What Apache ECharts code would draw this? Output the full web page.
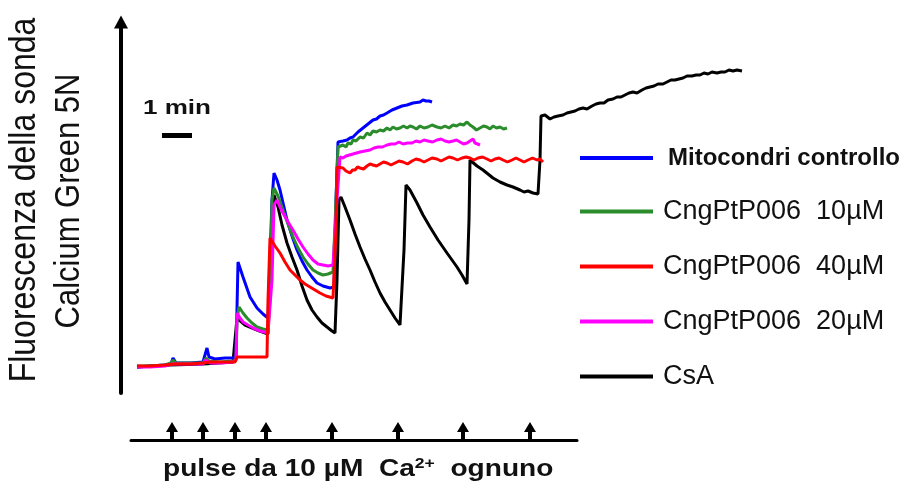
<!DOCTYPE html>
<html>
<head>
<meta charset="utf-8">
<script src="https://cdn.jsdelivr.net/npm/echarts@6/dist/echarts.min.js"></script>
<style>
  html, body { margin: 0; padding: 0; background: #fff; }
  #chart { width: 923px; height: 486px; }
</style>
</head>
<body>
<div id="chart"></div>
<script>
// Calcium Green 5N fluorescence traces: time in seconds, fluorescence in arbitrary units.
const mitoControllo = [
  [32,26],[58,27],[88,28],[100,29],[104,35],[110,30],[138,30],[164,31],[168,38],[172,45],[176,36],
  [188,34],[208,35],[224,35],[230,38],[234,131],[244,116],[258,96],[272,85],[284,79],[294,75],[298,75],
  [302,193],[306,220],[312,213],[318,203],[332,173],[342,157],[352,143],[362,132],[372,123],[382,116],
  [392,110],[404,107],[418,105],[426,106],[430,193],[434,251],[444,252],[448,251],[452,253],[458,255],
  [464,256],[474,261],[484,265],[494,269],[504,273],[511,274],[518,277],[525,278],[532,280],[542,283],
  [552,285],[562,287],[572,288],[578,289],[584,290],[598,291],[604,293],[610,292],[616,292],[622,291]
];
const cng10 = [
  [32,27],[58,27],[88,28],[100,30],[104,33],[110,30],[138,30],[164,30],[170,35],[176,32],[198,31],
  [224,32],[230,33],[232,73],[236,86],[244,80],[252,75],[262,70],[272,66],[284,64],[294,63],[298,93],
  [302,193],[306,205],[314,197],[324,183],[334,169],[344,156],[354,145],[364,136],[374,129],[384,123],
  [394,120],[404,118],[414,119],[424,121],[428,122],[430,193],[434,246],[444,248],[450,246],[454,250],
  [460,249],[464,253],[470,252],[478,256],[485,255],[492,260],[498,258],[504,262],[511,261],[518,263],
  [525,262],[532,265],[538,263],[544,266],[551,264],[558,265],[565,267],[572,265],[578,267],[584,266],
  [591,264],[598,267],[606,265],[614,266],[622,268],[632,266],[640,265],[648,267],[656,265],[664,268],
  [671,267],[678,269],[685,268],[692,271],[698,268],[704,266],[711,263],[718,265],[725,267],[732,266],
  [738,264],[744,267],[751,265],[758,266],[765,264],[772,265]
];
const cng40 = [
  [32,27],[58,27],[88,28],[108,29],[138,29],[164,30],[178,31],[202,31],[228,31],[232,36],[238,36],
  [258,36],[278,36],[292,36],[294,93],[298,155],[308,147],[318,140],[328,131],[338,123],[348,118],
  [358,113],[368,109],[378,106],[388,103],[398,100],[410,97],[424,95],[428,96],[430,163],[432,226],
  [444,225],[450,222],[458,220],[463,223],[468,223],[473,226],[478,225],[485,224],[492,227],[498,229],
  [504,228],[511,227],[518,229],[525,231],[532,230],[540,228],[548,230],[556,232],[564,231],[573,229],
  [582,232],[590,234],[598,233],[606,231],[614,233],[622,235],[632,234],[640,232],[648,234],[656,236],
  [664,235],[673,233],[682,235],[690,236],[698,235],[706,233],[714,235],[723,236],[732,234],[740,232],
  [748,234],[756,235],[764,233],[773,231],[782,233],[790,235],[798,233],[806,231],[814,233],[823,235],
  [832,233],[838,234],[844,231]
];
const cng20 = [
  [32,26],[58,26],[88,27],[102,29],[110,29],[138,29],[164,29],[170,33],[178,30],[202,30],[224,31],
  [230,33],[232,80],[238,75],[244,71],[254,68],[264,65],[278,62],[294,60],[298,60],[302,113],[306,188],
  [312,193],[318,186],[324,180],[334,171],[344,163],[354,154],[364,146],[374,139],[384,133],[394,129],
  [404,128],[414,127],[424,128],[428,129],[432,193],[438,236],[444,235],[450,237],[457,238],[464,239],
  [471,240],[478,241],[488,242],[498,243],[506,245],[514,246],[523,246],[532,248],[540,249],[548,249],
  [556,251],[564,249],[573,250],[582,250],[590,252],[598,251],[606,253],[614,252],[623,251],[632,253],
  [640,254],[648,252],[656,251],[664,252],[671,253],[678,251],[685,249],[692,250],[698,252],[704,254],
  [708,250],[712,249],[718,248]
];
const csa = [
  [32,26],[98,28],[164,29],[224,31],[232,75],[248,68],[272,63],[294,59],[300,143],[306,198],[314,186],
  [322,168],[332,150],[342,136],[352,123],[362,107],[372,93],[382,83],[392,76],[402,70],[412,66],
  [422,62],[428,60],[432,113],[436,193],[440,196],[448,186],[458,173],[468,159],[478,146],[488,134],
  [498,123],[508,111],[518,100],[528,91],[538,83],[548,75],[558,68],[562,67],[566,143],[570,208],
  [578,203],[592,190],[604,178],[618,166],[634,153],[652,140],[662,133],[672,126],[682,118],[692,109],
  [694,108],[696,173],[698,233],[702,234],[712,227],[724,223],[734,219],[744,215],[758,211],[772,208],
  [784,206],[798,203],[806,201],[814,202],[824,200],[834,199],[838,233],[840,277],[848,278],[852,276],
  [858,274],[866,276],[874,277],[884,278],[892,280],[900,281],[908,282],[916,284],[924,285],[932,284],
  [942,287],[950,289],[958,290],[966,290],[974,293],[984,294],[992,296],[1000,296],[1008,298],
  [1016,300],[1024,301],[1032,300],[1042,303],[1050,305],[1058,306],[1066,307],[1074,309],[1084,309],
  [1092,311],[1100,313],[1108,313],[1116,314],[1124,315],[1132,317],[1142,317],[1150,318],[1158,318],
  [1166,320],[1174,319],[1182,321],[1192,320],[1200,321],[1208,321],[1216,323],[1224,322],[1232,323],
  [1242,322]
];
// Times (s) of the 10 µM Ca2+ pulses
const pulseTimes = [102, 164, 228, 290, 422, 554, 684, 818];
// Legend labels in display order
const legendNames = ['Mitocondri controllo', 'CngPtP006  10µM', 'CngPtP006  40µM', 'CngPtP006  20µM', 'CsA'];
// Time scale bar
const scaleBarStart = 82, scaleBarSeconds = 60, scaleBarLevel = 257.5;

const FONT = "'Liberation Sans', Arial, sans-serif";
const colors = {
  'Mitocondri controllo': '#0000ff',
  'CngPtP006  10µM': '#2a8c2a',
  'CngPtP006  40µM': '#ff0000',
  'CngPtP006  20µM': '#ff00ff',
  'CsA': '#000000'
};
const traceData = {
  'Mitocondri controllo': mitoControllo,
  'CngPtP006  10µM': cng10,
  'CngPtP006  40µM': cng40,
  'CngPtP006  20µM': cng20,
  'CsA': csa
};
// Drawing order: black underneath, red on top
const drawOrder = ['CsA', 'Mitocondri controllo', 'CngPtP006  10µM', 'CngPtP006  20µM', 'CngPtP006  40µM'];

const traceSeries = drawOrder.map(name => ({
  name: name,
  type: 'line',
  xAxisIndex: 0,
  yAxisIndex: 0,
  data: traceData[name],
  showSymbol: false,
  symbol: 'none',
  color: colors[name],
  lineStyle: { width: 3, color: colors[name] },
  emphasis: { disabled: true }
}));

const chart = echarts.init(document.getElementById('chart'));
chart.setOption({
  animation: false,
  backgroundColor: '#ffffff',
  grid: [
    { left: 121, right: 142, top: 22, bottom: 93 },
    { left: 131, right: 346, top: 420, height: 20 }
  ],
  xAxis: [
    { gridIndex: 0, type: 'value', min: 0, max: 1320, show: false },
    {
      gridIndex: 1, type: 'value', min: 20, max: 912,
      axisLine: { show: true, lineStyle: { color: '#000', width: 3 } },
      axisTick: { show: false }, axisLabel: { show: false }, splitLine: { show: false }
    }
  ],
  yAxis: [
    {
      gridIndex: 0, type: 'value', min: 0, max: 371,
      axisLine: {
        show: true,
        symbol: ['none', 'triangle'],
        symbolSize: [14, 13],
        lineStyle: { color: '#000', width: 4 }
      },
      axisTick: { show: false }, axisLabel: { show: false }, splitLine: { show: false }
    },
    { gridIndex: 1, type: 'value', min: 0, max: 1, show: false }
  ],
  legend: {
    data: legendNames,
    orient: 'vertical',
    left: 575,
    top: 141,
    itemWidth: 73,
    itemHeight: 4,
    itemGap: 28,
    icon: 'rect',
    selectedMode: false,
    formatter: name => name === 'Mitocondri controllo' ? '{b|' + name + '}' : '{r|' + name + '}',
    textStyle: {
      color: '#111',
      rich: {
        b: { fontFamily: FONT, fontSize: 24, fontWeight: 'bold', lineHeight: 28, padding: [0, 0, 0, 10], color: '#111' },
        r: { fontFamily: FONT, fontSize: 27, lineHeight: 28, padding: [0, 0, 0, 5], color: '#111' }
      }
    }
  },
  graphic: [
    {
      type: 'text', x: 25, y: 200, rotation: Math.PI / 2, scaleY: 1.15,
      style: { text: 'Fluorescenza della sonda', fontFamily: FONT, fontSize: 32, fill: '#111',
               align: 'center', verticalAlign: 'middle', textAlign: 'center', textVerticalAlign: 'middle' }
    },
    {
      type: 'text', x: 69, y: 201, rotation: Math.PI / 2, scaleY: 1.15,
      style: { text: 'Calcium Green 5N', fontFamily: FONT, fontSize: 31, fill: '#111',
               align: 'center', verticalAlign: 'middle', textAlign: 'center', textVerticalAlign: 'middle' }
    },
    {
      type: 'text', x: 143, y: 108, scaleX: 1.24,
      style: { text: '1 min', fontFamily: FONT, fontSize: 21, fontWeight: 'bold', fill: '#111',
               align: 'left', verticalAlign: 'middle', textAlign: 'left', textVerticalAlign: 'middle' }
    },
    {
      type: 'text', x: 163, y: 469, scaleX: 1.17,
      style: {
        text: '{n|pulse da 10 µM  Ca}{s|2+}{n|  ognuno}',
        align: 'left', verticalAlign: 'middle', textAlign: 'left', textVerticalAlign: 'middle',
        fill: '#111',
        rich: {
          n: { fontFamily: FONT, fontSize: 24, fontWeight: 'bold', lineHeight: 26, fill: '#111', verticalAlign: 'middle' },
          s: { fontFamily: FONT, fontSize: 15, fontWeight: 'bold', lineHeight: 26, fill: '#111', verticalAlign: 'top' }
        }
      }
    }
  ],
  series: traceSeries.concat([
    {
      name: 'scala',
      type: 'line',
      data: [[scaleBarStart, scaleBarLevel], [scaleBarStart + scaleBarSeconds, scaleBarLevel]],
      showSymbol: false, symbol: 'none',
      lineStyle: { color: '#000', width: 5, cap: 'butt' },
      emphasis: { disabled: true }
    },
    {
      name: 'impulsi',
      type: 'scatter',
      xAxisIndex: 1,
      yAxisIndex: 1,
      data: pulseTimes.map(t => [t, 0]),
      symbol: 'path://M6,0L12,10L8,10L8,18L4,18L4,10L0,10Z',
      symbolSize: [12, 18],
      symbolOffset: [0, -9],
      itemStyle: { color: '#000', opacity: 1 },
      emphasis: { disabled: true },
      z: 5
    }
  ])
});
</script>
</body>
</html>
